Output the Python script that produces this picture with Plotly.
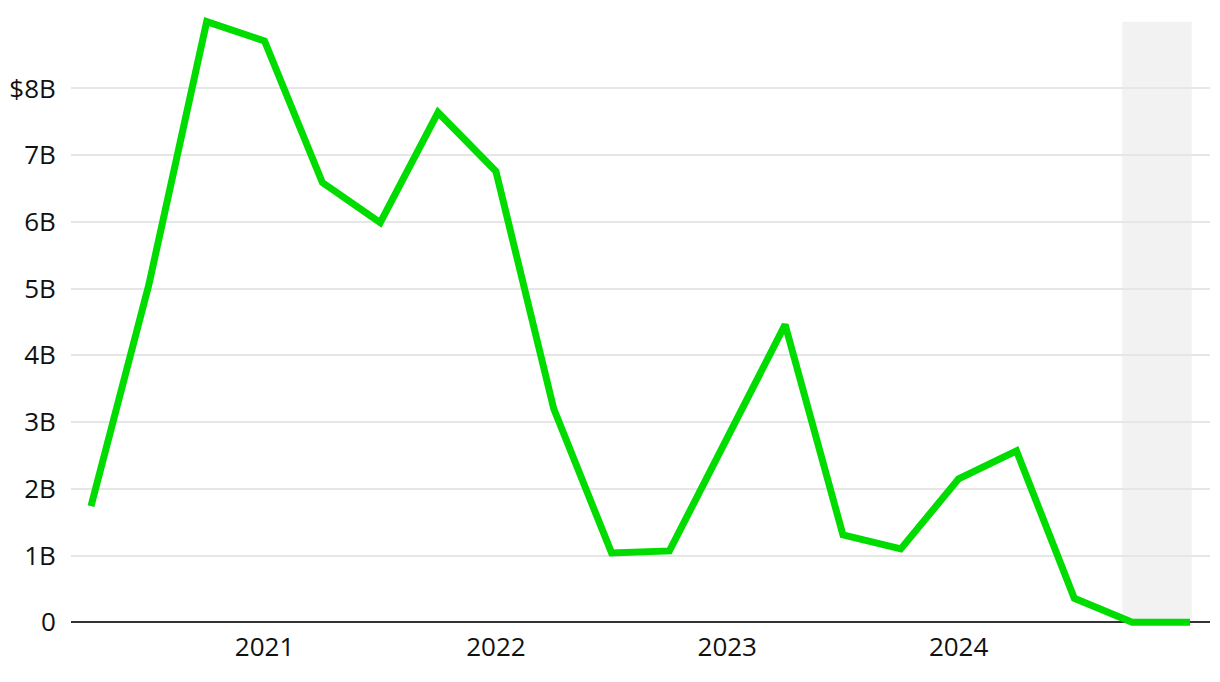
import plotly.graph_objects as go

quarters = ["2020 Q1", "2020 Q2", "2020 Q3", "2020 Q4",
            "2021 Q1", "2021 Q2", "2021 Q3", "2021 Q4",
            "2022 Q1", "2022 Q2", "2022 Q3", "2022 Q4",
            "2023 Q1", "2023 Q2", "2023 Q3", "2023 Q4",
            "2024 Q1", "2024 Q2", "2024 Q3", "2024 Q4"]
values_b = [1.74, 5.06, 9.0, 8.71, 6.59, 5.99, 7.64, 6.76, 3.20, 1.04,
            1.07, 2.76, 4.46, 1.31, 1.10, 2.15, 2.57, 0.36, 0.0, 0.0]
year_ticks = ["2021", "2022", "2023", "2024"]
y_tickvals = [0, 1, 2, 3, 4, 5, 6, 7, 8]
y_ticktext = ["0", "1B", "2B", "3B", "4B", "5B", "6B", "7B", "$8B"]
shade_span = [17.83, 19.03]  # incomplete-period highlight (in quarter-index units)

x = list(range(len(quarters)))
tickvals = [i for i, q in enumerate(quarters) if q.endswith("Q4") and q[:4] in [str(int(y) - 1) for y in year_ticks]]

fig = go.Figure()
fig.add_trace(go.Scatter(
    x=x, y=values_b, mode="lines",
    line=dict(color="#00dc00", width=7),
    hoverinfo="skip", showlegend=False,
))

fig.add_shape(type="rect", xref="x", yref="y",
              x0=shade_span[0], x1=shade_span[1], y0=0, y1=max(values_b),
              fillcolor="#f2f2f2", line_width=0, layer="below")

fig.update_layout(
    width=1220, height=682,
    margin=dict(l=63, r=18, t=7, b=61),
    plot_bgcolor="white", paper_bgcolor="white",
    font=dict(family="Open Sans, Roboto, sans-serif", size=26, color="#111111"),
    showlegend=False,
)
fig.update_xaxes(
    range=[-0.346, 19.346], automargin=False,
    tickvals=tickvals, ticktext=year_ticks,
    showgrid=False, zeroline=False, showline=False,
    ticks="", 
)
fig.update_yaxes(
    range=[-0.1, 9.1], automargin=False,
    tickvals=y_tickvals, ticktext=y_ticktext,
    showgrid=True, gridcolor="#e6e6e6", gridwidth=1.5,
    zeroline=True, zerolinecolor="#333333", zerolinewidth=2,
    showline=False,
    ticks="outside", ticklen=9, tickcolor="rgba(0,0,0,0)",
)

fig.write_html("out.html")
